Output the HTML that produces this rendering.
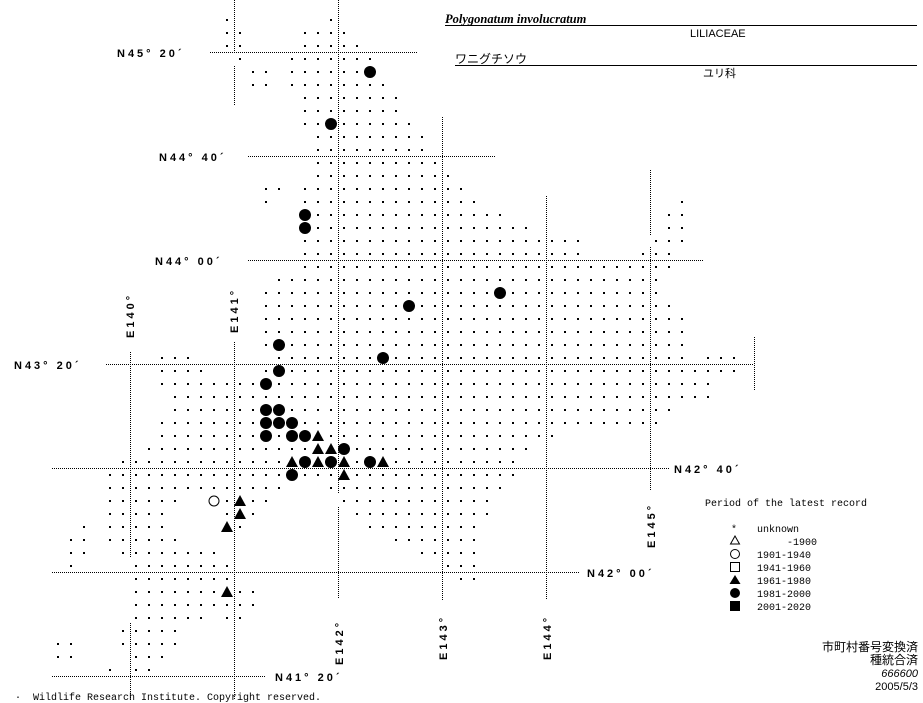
<!DOCTYPE html>
<html><head><meta charset="utf-8"><style>
html,body{margin:0;padding:0;background:#fff;}
body{width:923px;height:703px;overflow:hidden;position:relative;}
svg{position:absolute;left:0;top:0;}
.lab{font-family:"Liberation Sans",sans-serif;font-weight:bold;font-size:11px;letter-spacing:3px;fill:#000;}
.t{font-family:"Liberation Mono","Noto Sans CJK JP",monospace;font-size:10px;fill:#000;}
</style></head><body>
<svg id="m" width="923" height="703" viewBox="0 0 923 703" xmlns="http://www.w3.org/2000/svg">
<g stroke="#000" stroke-width="1" stroke-dasharray="1,1" fill="none">
<line x1="210" y1="52.5" x2="417" y2="52.5"/>
<line x1="248" y1="156.5" x2="495" y2="156.5"/>
<line x1="248" y1="260.5" x2="703" y2="260.5"/>
<line x1="106" y1="364.5" x2="754" y2="364.5"/>
<line x1="52" y1="468.5" x2="670" y2="468.5"/>
<line x1="52" y1="572.5" x2="580" y2="572.5"/>
<line x1="52" y1="676.5" x2="265" y2="676.5"/>
<line x1="130.5" y1="352" x2="130.5" y2="558"/>
<line x1="130.5" y1="623" x2="130.5" y2="700"/>
<line x1="234.5" y1="0" x2="234.5" y2="52"/>
<line x1="234.5" y1="66" x2="234.5" y2="105"/>
<line x1="234.5" y1="342" x2="234.5" y2="700"/>
<line x1="338.5" y1="0" x2="338.5" y2="493"/>
<line x1="338.5" y1="507" x2="338.5" y2="598"/>
<line x1="442.5" y1="117" x2="442.5" y2="600"/>
<line x1="546.5" y1="196" x2="546.5" y2="600"/>
<line x1="650.5" y1="170" x2="650.5" y2="235"/>
<line x1="650.5" y1="247" x2="650.5" y2="490"/>
<line x1="754.5" y1="337" x2="754.5" y2="390"/>
</g>
<g id="dots" fill="#000"></g>
<g class="lab">
<text x="117" y="57">N45° 20´</text>
<text x="159" y="161">N44° 40´</text>
<text x="155" y="265">N44° 00´</text>
<text x="14" y="369">N43° 20´</text>
<text x="674" y="473">N42° 40´</text>
<text x="587" y="577">N42° 00´</text>
<text x="275" y="681">N41° 20´</text>
<text transform="translate(134,338) rotate(-90)">E140°</text>
<text transform="translate(238,333) rotate(-90)">E141°</text>
<text transform="translate(343,665) rotate(-90)">E142°</text>
<text transform="translate(447,660) rotate(-90)">E143°</text>
<text transform="translate(551,660) rotate(-90)">E144°</text>
<text transform="translate(655,548) rotate(-90)">E145°</text>
</g>
<text x="445" y="23" style="font-family:'Liberation Serif',serif;font-weight:bold;font-style:italic;font-size:12.5px">Polygonatum involucratum</text>
<line x1="445" y1="25.5" x2="917" y2="25.5" stroke="#000"/>
<text x="690" y="37" style="font-family:'Liberation Sans',sans-serif;font-size:11px">LILIACEAE</text>
<text x="455" y="63" style="font-family:'Liberation Sans','Noto Sans CJK JP',sans-serif;font-size:12px">ワニグチソウ</text>
<line x1="455" y1="65.5" x2="917" y2="65.5" stroke="#000"/>
<text x="703" y="77" style="font-family:'Liberation Sans','Noto Sans CJK JP',sans-serif;font-size:11px">ユリ科</text>
<text x="705" y="506" class="t">Period of the latest record</text>
<g class="t">
<text x="731" y="532">*</text><text x="757" y="532">unknown</text>
<text x="757" y="545" xml:space="preserve">     -1900</text>
<text x="757" y="558">1901-1940</text>
<text x="757" y="571">1941-1960</text>
<text x="757" y="584">1961-1980</text>
<text x="757" y="597">1981-2000</text>
<text x="757" y="610">2001-2020</text>
</g>
<polygon points="735,536 730.5,544 739.5,544" fill="none" stroke="#000"/>
<circle cx="735" cy="554" r="4.5" fill="none" stroke="#000"/>
<rect x="730.5" y="562.5" width="9" height="9" fill="none" stroke="#000"/>
<polygon points="735,575 729.5,584 740.5,584" fill="#000"/>
<circle cx="735" cy="593" r="5" fill="#000"/>
<rect x="730" y="601" width="10" height="10" fill="#000"/>
<g style="font-family:'Liberation Sans','Noto Sans CJK JP',sans-serif;font-size:12px" text-anchor="end">
<text x="918" y="651">市町村番号変換済</text>
<text x="918" y="664">種統合済</text>
<text x="918" y="677" style="font-style:italic;font-size:11px">666600</text>
<text x="918" y="690" style="font-size:11px">2005/5/3</text>
</g>
<text x="15" y="700" class="t" xml:space="preserve">·  Wildlife Research Institute. Copyright reserved.</text>
</svg>
<script>
var rows={20:[[227],[331]],33:[[227,240],[305,344]],46:[[227,240],[305,357]],59:[[240],[292,370]],72:[[253,266],[292,370]],85:[[253,266],[292,383]],98:[[305,396]],111:[[305,396]],124:[[305,409]],137:[[318,422]],150:[[318,422]],163:[[318,435]],176:[[318,448]],189:[[266,279],[305,461]],202:[[266],[305,474],[682]],215:[[305,500],[669,682]],228:[[305,526],[669,682]],241:[[305,578],[656,682]],254:[[305,578],[643,669]],267:[[305,669]],280:[[279,656]],293:[[266,656]],306:[[266,669]],319:[[266,682]],332:[[266,682]],345:[[266,682]],358:[[162,188],[279,682],[708,734]],371:[[162,201],[266,734]],384:[[162,708]],397:[[175,708]],410:[[175,669]],423:[[162,656]],436:[[162,552]],449:[[149,526]],462:[[123,513]],475:[[110,513]],488:[[110,279],[331,500]],501:[[110,175],[214,266],[344,487]],514:[[110,162],[227,253],[357,487]],527:[[84],[110,162],[227,240],[370,474]],540:[[71,84],[110,175],[396,474]],553:[[71,84],[123,214],[422,474]],566:[[71],[136,227],[448,474]],579:[[136,227],[461,474]],592:[[136,253]],605:[[136,253]],618:[[136,201],[227,240]],631:[[123,175]],644:[[58,71],[123,175]],657:[[58,71],[136,162]],670:[[110],[136,149]]};
var C=[[370,72],[331,124],[305,215],[305,228],[500,293],[409,306],[279,345],[383,358],[279,371],[266,384],[266,410],[279,410],[266,423],[279,423],[292,423],[266,436],[292,436],[305,436],[344,449],[305,462],[331,462],[370,462],[292,475]];
var T=[[318,436],[318,449],[331,449],[292,462],[318,462],[344,462],[383,462],[344,475],[240,501],[240,514],[227,527],[227,592]];
var O=[[214,501]];
var sp={};C.concat(T,O).forEach(function(p){sp[p[0]+','+p[1]]=1;});
var s='';
for(var y in rows){rows[y].forEach(function(r){var a=r[0],b=r.length>1?r[1]:r[0];for(var x=a;x<=b;x+=13){if(!sp[x+','+y])s+='<rect x="'+(x-1)+'" y="'+(y-1)+'" width="2" height="2"/>';}});}
C.forEach(function(p){s+='<circle cx="'+p[0]+'" cy="'+p[1]+'" r="6"/>';});
T.forEach(function(p){var x=p[0],y=p[1];s+='<polygon points="'+x+','+(y-6)+' '+(x-6)+','+(y+5)+' '+(x+6)+','+(y+5)+'"/>';});
O.forEach(function(p){s+='<circle cx="'+p[0]+'" cy="'+p[1]+'" r="5" fill="none" stroke="#000"/>';});
document.getElementById('dots').innerHTML=s;
</script>
</body></html>
